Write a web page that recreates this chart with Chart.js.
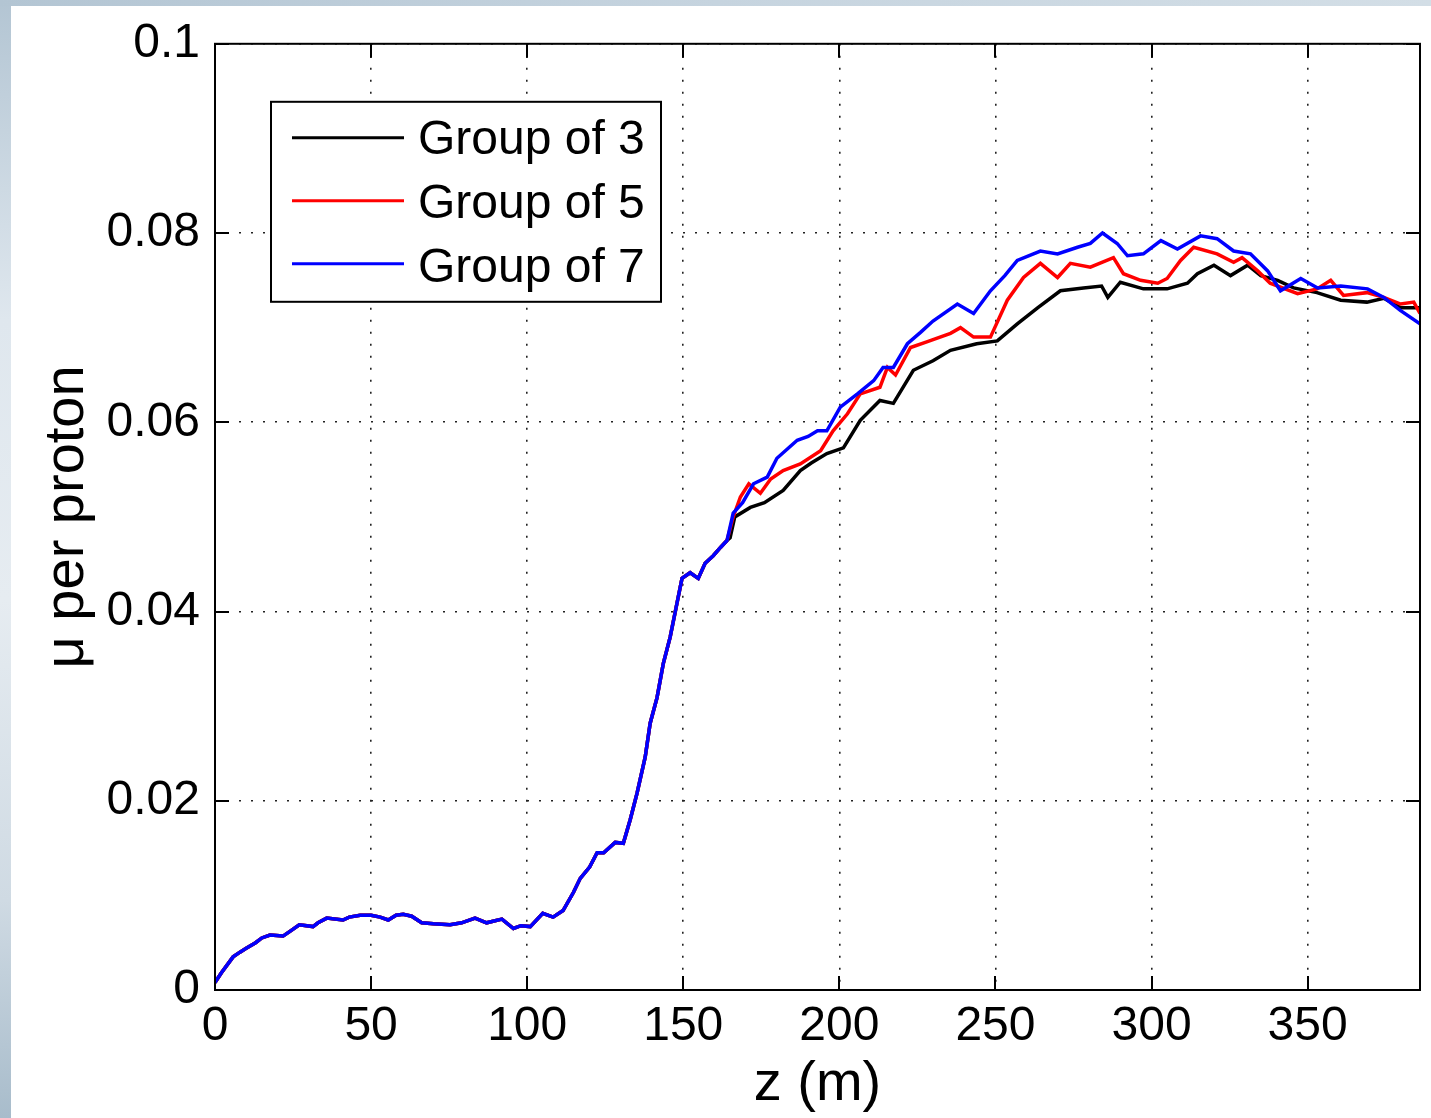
<!DOCTYPE html>
<html>
<head>
<meta charset="utf-8">
<script src="https://cdn.jsdelivr.net/npm/chart.js@4/dist/chart.umd.min.js"></script>
<style>
  html, body { margin: 0; padding: 0; }
  body { width: 1431px; height: 1118px; position: relative; overflow: hidden;
    background: linear-gradient(to bottom, #b3c5d3 0px, #dfe7ee 320px, #e6ecf1 600px, #cfdae3 900px, #a8bccb 1118px); }
  #topstrip { position: absolute; left: 0; top: 0; width: 1431px; height: 6px;
    background: linear-gradient(to right, #b3c5d3, #c6d4df 50%, #d3dee6); }
  #white { position: absolute; left: 11px; top: 6px; width: 1420px; height: 1112px; background: #fff; }
  #c { position: absolute; left: 0; top: 0; }
</style>
</head>
<body>
<div id="topstrip"></div>
<div id="white"></div>
<canvas id="c" width="1431" height="1118"></canvas>
<script>
// ---- data ----
const seriesLabels = ["Group of 3", "Group of 5", "Group of 7"];
const seriesColors = ["#000000", "#ff0000", "#0000ff"];

// common part (all three groups identical up to z ~ 164 m)
const sharedZ  = [0, 2, 5.8, 8, 10, 13, 15, 17.6, 21.8, 24, 27, 31.4, 33, 35.8, 41, 43, 46.5, 50, 52.9, 55.5, 58, 60.3, 63, 66.2, 70, 75.3, 79, 83.3, 87, 91.9, 95.6, 98, 101, 105, 108.3, 111.5, 114.8, 117, 120, 122.4, 124.5, 128.2, 130.8, 133, 135.2, 137.8, 139.4, 141.6, 143.6, 145.8, 148, 149.6, 152.2, 154.8, 157, 159.6, 162, 164];
const sharedMu = [0.0008, 0.0018, 0.0035, 0.0040, 0.0044, 0.0050, 0.0055, 0.0058, 0.0057, 0.0062, 0.0069, 0.0067, 0.0071, 0.0076, 0.0074, 0.0077, 0.0079, 0.0079, 0.0077, 0.0074, 0.0079, 0.0080, 0.0078, 0.0071, 0.0070, 0.0069, 0.0071, 0.0076, 0.0071, 0.0075, 0.0065, 0.0068, 0.0067, 0.0081, 0.0077, 0.0084, 0.0103, 0.0118, 0.0130, 0.0145, 0.0145, 0.0156, 0.0155, 0.0180, 0.0208, 0.0246, 0.0282, 0.0309, 0.0345, 0.0373, 0.0409, 0.0435, 0.0441, 0.0435, 0.0451, 0.0459, 0.0468, 0.0475];

const g3Z  = [165, 166.5, 171.5, 176, 182, 187.5, 191, 196, 201.3, 206.7, 213, 217.3, 223.7, 230, 235.6, 244, 250.6, 257, 263.5, 270.8, 278.2, 284, 286, 290, 297.4, 305, 311.5, 314.7, 320, 325.3, 330.8, 335, 340.4, 345.5, 353, 360.6, 369, 374.4, 379.8, 386];
const g3Mu = [0.0478, 0.0500, 0.0510, 0.0515, 0.0528, 0.0549, 0.0557, 0.0567, 0.0573, 0.0602, 0.0623, 0.0620, 0.0655, 0.0665, 0.0676, 0.0683, 0.0686, 0.0704, 0.0721, 0.0739, 0.0742, 0.0744, 0.0732, 0.0748, 0.0741, 0.0741, 0.0747, 0.0757, 0.0766, 0.0755, 0.0766, 0.0755, 0.0750, 0.0742, 0.0737, 0.0729, 0.0727, 0.0731, 0.0721, 0.0721];

const g5Z  = [166, 168.3, 171, 174.7, 178, 182, 187.5, 194, 198, 202.6, 206.7, 213, 215.4, 218, 222.8, 228, 235.6, 238.8, 243, 248.4, 253.8, 259, 264.4, 269.9, 274, 280.4, 287.8, 291, 296.5, 302, 305, 309.3, 313.5, 321, 326.3, 329, 334, 338, 346.8, 353, 357.4, 361.5, 369, 374.4, 379.8, 384, 386];
const g5Mu = [0.0500, 0.0521, 0.0535, 0.0525, 0.0540, 0.0549, 0.0556, 0.0570, 0.0591, 0.0609, 0.0630, 0.0637, 0.0658, 0.0650, 0.0679, 0.0685, 0.0694, 0.0700, 0.0690, 0.0690, 0.0729, 0.0753, 0.0768, 0.0753, 0.0768, 0.0764, 0.0774, 0.0757, 0.0750, 0.0747, 0.0752, 0.0771, 0.0785, 0.0778, 0.0769, 0.0774, 0.0760, 0.0747, 0.0736, 0.0741, 0.0750, 0.0734, 0.0737, 0.0732, 0.0725, 0.0727, 0.0715];

const g7Z  = [166, 169, 172.5, 176.9, 180, 186.5, 190, 193, 196, 200.3, 205.8, 211, 214, 217.3, 221.8, 226, 230, 237.8, 243, 248.4, 253, 257, 264.4, 269.9, 276.3, 280.4, 284.3, 289, 292.3, 297.4, 303, 308.3, 315.7, 321, 326.3, 331.7, 337.2, 341.3, 347.8, 353.2, 360.6, 369.2, 374.4, 379.8, 386];
const g7Mu = [0.0504, 0.0515, 0.0535, 0.0542, 0.0562, 0.0581, 0.0585, 0.0591, 0.0591, 0.0616, 0.0630, 0.0644, 0.0658, 0.0658, 0.0683, 0.0695, 0.0707, 0.0725, 0.0715, 0.0739, 0.0755, 0.0771, 0.0781, 0.0778, 0.0785, 0.0789, 0.0800, 0.0789, 0.0776, 0.0778, 0.0792, 0.0783, 0.0797, 0.0794, 0.0781, 0.0778, 0.0760, 0.0739, 0.0752, 0.0742, 0.0744, 0.0741, 0.0732, 0.0718, 0.0704];

const xTicks = [0, 50, 100, 150, 200, 250, 300, 350];
const yTicks = [0, 0.02, 0.04, 0.06, 0.08, 0.1];
const xTitle = "z (m)";
const yTitle = "μ per proton";

// ---- build datasets ----
function pts(zs, ms) { return zs.map((z, i) => ({ x: z, y: ms[i] })); }
const shared = pts(sharedZ, sharedMu);
const branches = [pts(g3Z, g3Mu), pts(g5Z, g5Mu), pts(g7Z, g7Mu)];

const FONT = "'Liberation Sans', Arial, Helvetica, sans-serif";

const datasets = seriesLabels.map((lab, i) => ({
  label: lab,
  data: shared.concat(branches[i]),
  borderColor: seriesColors[i],
  backgroundColor: seriesColors[i],
  borderWidth: 3.5,
  pointRadius: 0,
  tension: 0,
  fill: false,
  order: 3 - i
}));

const frame = {
  id: 'frame',
  afterDatasetsDraw(chart) {
    const ctx = chart.ctx, a = chart.chartArea;
    const xs = chart.scales.x, ys = chart.scales.y;
    ctx.save();
    ctx.strokeStyle = '#000';
    ctx.lineWidth = 2;
    const T = 14;
    ctx.beginPath();
    xTicks.forEach(v => {
      const px = Math.round(xs.getPixelForValue(v));
      ctx.moveTo(px, a.bottom); ctx.lineTo(px, a.bottom - T);
      ctx.moveTo(px, a.top); ctx.lineTo(px, a.top + T);
    });
    yTicks.forEach(v => {
      const py = Math.round(ys.getPixelForValue(v));
      ctx.moveTo(a.left, py); ctx.lineTo(a.left + T, py);
      ctx.moveTo(a.right, py); ctx.lineTo(a.right - T, py);
    });
    ctx.stroke();
    ctx.strokeRect(a.left, a.top, a.right - a.left, a.bottom - a.top);

    // legend box (inside axes, top-left)
    const bx = a.left + 56, by = a.top + 58, bw = 390, bh = 200;
    ctx.fillStyle = '#fff';
    ctx.fillRect(bx, by, bw, bh);
    ctx.strokeRect(bx, by, bw, bh);
    const lineY = [137, 200, 263], baseY = [153, 217, 281];
    ctx.font = '48px ' + FONT;
    ctx.textAlign = 'left';
    ctx.textBaseline = 'alphabetic';
    chart.data.datasets.forEach((ds, i) => {
      const ly = by + (lineY[i] - 101);
      ctx.strokeStyle = ds.borderColor;
      ctx.lineWidth = 3;
      ctx.beginPath();
      ctx.moveTo(bx + 21, ly); ctx.lineTo(bx + 133, ly);
      ctx.stroke();
      ctx.fillStyle = '#000';
      ctx.fillText(ds.label, bx + 147, by + (baseY[i] - 101));
    });
    ctx.restore();
  }
};

new Chart(document.getElementById('c'), {
  type: 'line',
  data: { datasets },
  options: {
    responsive: false,
    animation: false,
    devicePixelRatio: 1,
    layout: { padding: { top: 43, right: 11, left: 0, bottom: 0 } },
    plugins: { legend: { display: false }, tooltip: { enabled: false } },
    scales: {
      x: {
        type: 'linear', min: 0, max: 386,
        afterBuildTicks: s => { s.ticks = xTicks.map(v => ({ value: v })); },
        afterFit: s => { s.height = 128; },
        grid: { color: '#222', lineWidth: 1.6, drawTicks: false },
        border: { display: false, dash: [2, 10] },
        ticks: { color: '#000', font: { size: 48, family: FONT }, padding: 8, maxRotation: 0,
          callback: v => String(v) },
        title: { display: true, text: xTitle, color: '#000', font: { size: 56, family: FONT }, padding: { top: 0, bottom: 0 } }
      },
      y: {
        type: 'linear', min: 0, max: 0.1,
        afterBuildTicks: s => { s.ticks = yTicks.map(v => ({ value: v })); },
        afterFit: s => { s.width = 215; },
        grid: { color: '#222', lineWidth: 1.6, drawTicks: false },
        border: { display: false, dash: [2, 10] },
        ticks: { color: '#000', font: { size: 48, family: FONT }, padding: 15,
          callback: v => String(Number(v.toFixed(2))) },
        title: { display: true, text: yTitle, color: '#000', font: { size: 56, family: FONT }, padding: { top: 34, bottom: 0 } }
      }
    }
  },
  plugins: [frame]
});
</script>
</body>
</html>
